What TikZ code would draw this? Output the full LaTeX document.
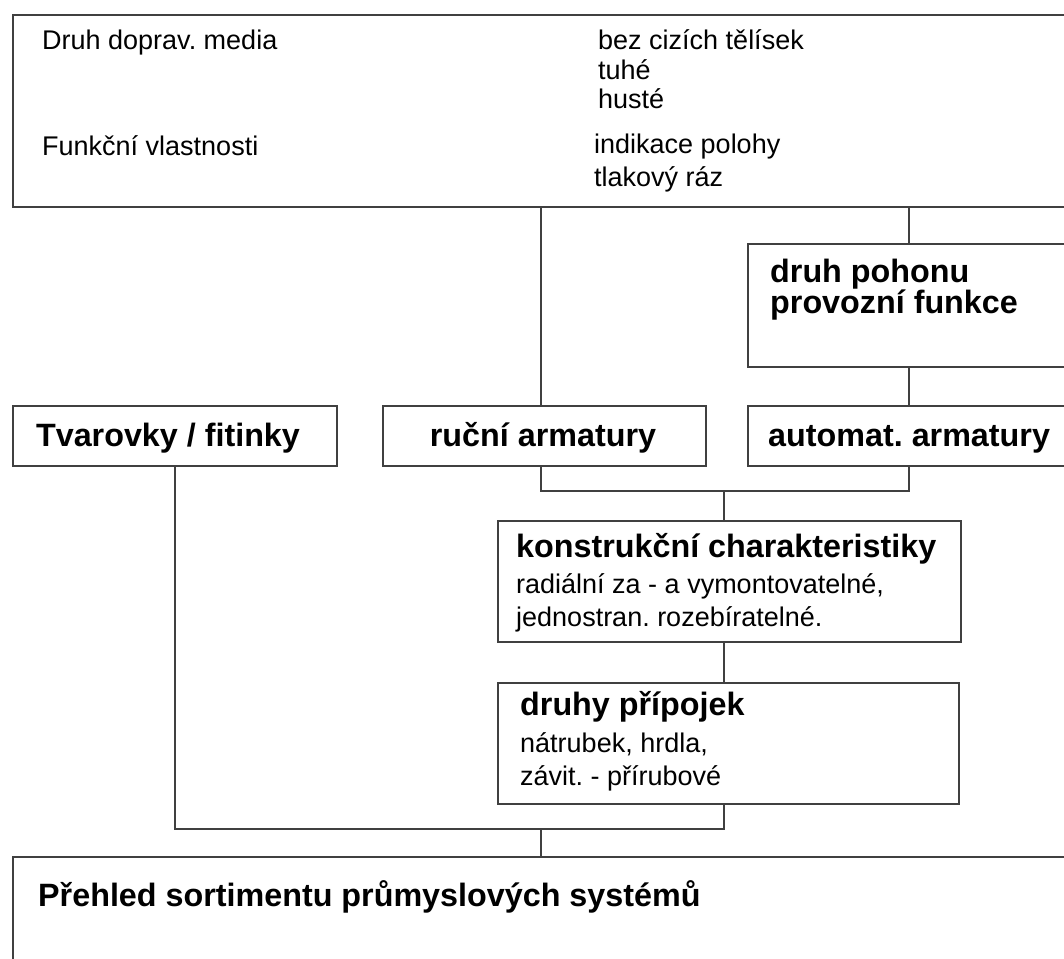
\documentclass[tikz,border=0pt]{standalone}
\usepackage{fontspec}
\setmainfont{Liberation Sans}
\usetikzlibrary{calc}
\frenchspacing
\tikzset{
  box/.style={draw=black!75, line width=1.8pt, fill=white, anchor=north west, inner sep=0pt},
  conn/.style={draw=black!75, line width=1.6pt},
  reg/.style={anchor=base west, inner sep=0pt, font=\fontsize{27}{30}\selectfont},
  bld/.style={anchor=base west, inner sep=0pt, font=\fontsize{32.3}{34}\bfseries\selectfont},
}
\begin{document}
\begin{tikzpicture}[x=1pt,y=-1pt]
\useasboundingbox (0,0) rectangle (1064,958);
\clip (0,0) rectangle (1064,958);
% boxes
\node[box, minimum width=1070, minimum height=192] (top) at (12,14) {};
\node[box, minimum width=340, minimum height=123] (pohon) at (747,243) {};
\node[box, minimum width=324, minimum height=60] (tvar) at (12,405) {};
\node[box, minimum width=323, minimum height=60] (rucni) at (382,405) {};
\node[box, minimum width=340, minimum height=60] (auto) at (747,405) {};
\node[box, minimum width=463, minimum height=121] (konst) at (497,520) {};
\node[box, minimum width=461, minimum height=121] (pripoj) at (497,682) {};
\node[box, minimum width=1070, minimum height=130] (bottom) at (12,856) {};
% junction coordinates
\coordinate (pa) at (909,206);
\coordinate (ra) at (541,206);
\coordinate (m1) at (724,491);
\coordinate (m2) at (724,829);
% connectors
\draw[conn] (top.south -| ra) -- (rucni.north -| ra);
\draw[conn] (top.south -| pa) -- (pohon.north -| pa);
\draw[conn] (pohon.south -| pa) -- (auto.north -| pa);
\draw[conn] (rucni.south -| ra) |- (m1) -| (auto.south -| pa);
\draw[conn] (m1) -- (konst.north -| m1);
\draw[conn] (konst.south -| m1) -- (pripoj.north -| m1);
\draw[conn] (pripoj.south -| m2) -- (m2) -| (tvar.south);
\draw[conn] (m2 -| ra) -- (bottom.north -| ra);
% texts
\node[reg] (t1) at (42,49) {Druh doprav. media};
\node[reg] (t2) at (598,49) {bez cizích tělísek};
\node[reg] (t3) at (598,79) {tuhé};
\node[reg] (t4) at (598,108) {husté};
\node[reg] (t5) at (42,155) {Funkční vlastnosti};
\node[reg] (t6) at (594,153) {indikace polohy};
\node[reg] (t7) at (594,186) {tlakový ráz};
\node[bld] (p1) at (770,282) {druh pohonu};
\node[bld] (p2) at (770,313) {provozní funkce};
\node[bld, anchor=base] (tv) at (168,446) {Tvarovky / fitinky};
\node[bld, anchor=base] (ru) at (543,446) {ruční armatury};
\node[bld] (au) at (768,446) {automat. armatury};
\node[bld] (k1) at (516,557) {konstrukční charakteristiky};
\node[reg] (k2) at (516,593) {radiální za - a vymontovatelné,};
\node[reg] (k3) at (516,626) {jednostran. rozebíratelné.};
\node[bld] (d1) at (520,715) {druhy přípojek};
\node[reg] (d2) at (520,752) {nátrubek, hrdla,};
\node[reg] (d3) at (520,785) {závit. - přírubové};
\node[bld] (b1) at (38,906) {Přehled sortimentu průmyslových systémů};
\end{tikzpicture}
\end{document}
